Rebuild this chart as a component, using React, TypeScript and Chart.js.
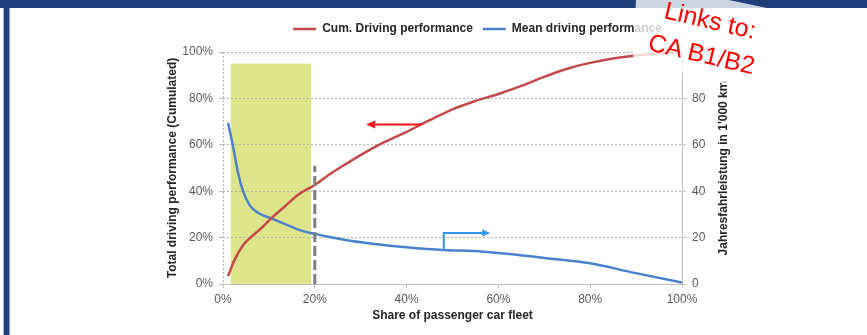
import { useEffect, useRef } from 'react';
import { Chart, registerables } from 'chart.js';

Chart.register(...registerables);

// Cumulated driving performance (%) against share of the passenger car fleet (%)
const cumShare = [1.1, 2.5, 4.4, 5.8, 8.3, 10.5, 13.4, 16.3, 20, 23, 27, 31, 35, 40, 45, 50, 55, 60, 65, 70, 75, 80, 85, 90, 95, 100];
const cumPerformance = [3.4, 10.3, 16.8, 19.7, 24, 28.3, 33.3, 38.4, 42.7, 47, 52, 56.7, 61, 65.6, 70.6, 75.3, 78.9, 81.9, 85.4, 89.3, 92.8, 95.3, 97.2, 98.5, 99.4, 100];

// Mean annual mileage (1'000 km) against share of the passenger car fleet (%)
const meanShare = [1.1, 2.2, 3.3, 4.4, 5.8, 7.6, 10.5, 13.4, 17.1, 20, 22.9, 27.7, 34.9, 42.2, 48.1, 56.7, 64, 70.5, 80, 89.4, 100];
const meanMileage = [69.5, 59.2, 47.7, 39.8, 34, 30.7, 28.3, 25.9, 23, 21.6, 20.4, 18.6, 16.8, 15.4, 14.7, 13.9, 12.6, 11.1, 8.9, 4.9, 0.6];

const seriesLabels = ['Cum. Driving performance', 'Mean driving performance'];
const xTitle = 'Share of passenger car fleet';
const yTitle = 'Total driving performance (Cumulated)';
const y1Title = "Jahresfahrleistung in 1'000 km";

// Highlighted fleet segment (share range, cumulated height) and the 20 % cut-off
const highlightShare = [1.7, 19.2];
const highlightTop = 95;
const cutoffShare = 20;
const cutoffTop = 51;

// Pointer arrows telling which axis each curve belongs to
const cumArrowShare = [43.3, 31.2];
const cumArrowLevel = 68.8;
const meanArrowShare = [48.1, 48.1, 58.2];
const meanArrowLevel = [14.7, 22, 22];

const FONT = '"Liberation Sans", Arial, Helvetica, sans-serif';

function drawArrow(ctx: CanvasRenderingContext2D, pts: number[][], color: string, len: number, half: number) {
  const n = pts.length;
  const [ex, ey] = pts[n - 1];
  const [px, py] = pts[n - 2];
  const ang = Math.atan2(ey - py, ex - px);
  const bx = ex - Math.cos(ang) * len;
  const by = ey - Math.sin(ang) * len;
  ctx.strokeStyle = color;
  ctx.fillStyle = color;
  ctx.lineWidth = 2;
  ctx.lineJoin = 'miter';
  ctx.beginPath();
  ctx.moveTo(pts[0][0], pts[0][1]);
  for (let i = 1; i < n - 1; i++) ctx.lineTo(pts[i][0], pts[i][1]);
  ctx.lineTo(bx, by);
  ctx.stroke();
  ctx.beginPath();
  ctx.moveTo(ex, ey);
  ctx.lineTo(bx - Math.sin(ang) * half, by + Math.cos(ang) * half);
  ctx.lineTo(bx + Math.sin(ang) * half, by - Math.cos(ang) * half);
  ctx.closePath();
  ctx.fill();
}

const fleetMarks = {
  id: 'fleetMarks',
  beforeDraw(chart: any) {
    const { ctx, scales } = chart;
    const { x, y } = scales;
    const l = x.getPixelForValue(highlightShare[0]);
    const r = x.getPixelForValue(highlightShare[1]);
    const t = y.getPixelForValue(highlightTop);
    const b = y.getPixelForValue(0);
    ctx.save();
    ctx.fillStyle = '#dde48a';
    ctx.fillRect(l, t, r - l, b - t);
    ctx.restore();
  },
  afterDatasetsDraw(chart: any) {
    const { ctx, scales, chartArea } = chart;
    const { x, y, y1 } = scales;
    ctx.save();
    // 20 % cut-off
    const cx = x.getPixelForValue(cutoffShare);
    ctx.strokeStyle = '#808080';
    ctx.lineWidth = 3;
    ctx.setLineDash([10, 4]);
    ctx.beginPath();
    ctx.moveTo(cx, y.getPixelForValue(0));
    ctx.lineTo(cx, y.getPixelForValue(cutoffTop));
    ctx.stroke();
    ctx.setLineDash([]);

    drawArrow(
      ctx,
      cumArrowShare.map((s) => [x.getPixelForValue(s), y.getPixelForValue(cumArrowLevel)]),
      '#f01818', 9, 4
    );
    drawArrow(
      ctx,
      meanArrowShare.map((s, i) => [x.getPixelForValue(s), y1.getPixelForValue(meanArrowLevel[i])]),
      '#2e96f0', 8, 3.5
    );

    // right axis title, reading bottom to top
    ctx.fillStyle = '#262626';
    ctx.font = `bold 12px ${FONT}`;
    ctx.textAlign = 'center';
    ctx.textBaseline = 'middle';
    ctx.translate(y1.left + 41.5, (chartArea.top + chartArea.bottom) / 2);
    ctx.rotate(-Math.PI / 2);
    ctx.fillText(y1Title, 0, 0);
    ctx.restore();
  },
};

export default function App() {
  const ref = useRef<HTMLCanvasElement>(null);

  useEffect(() => {
    Chart.defaults.font.family = FONT;
    const gridGray = '#b4b4b4';
    const axisGray = '#bfbfbf';
    const tickFont = { size: 12 };
    const titleFont = { size: 12, weight: 'bold' as const };

    const chart = new Chart(ref.current as HTMLCanvasElement, {
      type: 'line',
      data: {
        datasets: [
          {
            label: seriesLabels[0],
            data: cumShare.map((s, i) => ({ x: s, y: cumPerformance[i] })),
            borderColor: '#c4494a',
            backgroundColor: '#c4494a',
            borderWidth: 2.5,
            pointRadius: 0,
            cubicInterpolationMode: 'monotone',
            yAxisID: 'y',
          },
          {
            label: seriesLabels[1],
            data: meanShare.map((s, i) => ({ x: s, y: meanMileage[i] })),
            borderColor: '#4a82cc',
            backgroundColor: '#4a82cc',
            borderWidth: 2.5,
            pointRadius: 0,
            cubicInterpolationMode: 'monotone',
            yAxisID: 'y1',
          },
        ],
      },
      options: {
        responsive: false,
        animation: false,
        events: [],
        layout: { padding: { left: 161, right: 73, top: 13, bottom: 8 } },
        plugins: {
          tooltip: { enabled: false },
          legend: {
            position: 'top',
            labels: {
              usePointStyle: true,
              pointStyle: 'line',
              pointStyleWidth: 23,
              padding: 10,
              color: '#262626',
              font: { size: 12, weight: 'bold' },
            },
          },
          subtitle: {
            display: true,
            text: '',
            weight: 500,
            padding: { top: 0, bottom: 6 },
            font: { size: 1, lineHeight: 1 },
          } as any,
        },
        scales: {
          x: {
            type: 'linear',
            min: 0,
            max: 100,
            ticks: { stepSize: 20, callback: (v: any) => `${v}%`, color: '#595959', font: tickFont, padding: 4, maxRotation: 0 },
            grid: {
              drawOnChartArea: true,
              color: (c: any) => (c.tick && c.tick.value === 0 ? gridGray : 'rgba(0,0,0,0)'),
              tickColor: axisGray,
              tickLength: 4,
            },
            border: { display: true, color: axisGray, dash: [2, 2] },
            title: { display: true, text: xTitle, color: '#262626', font: titleFont, padding: { top: 4, bottom: 4 } },
            afterFit: (s: any) => { s.height = 43; },
          },
          y: {
            type: 'linear',
            position: 'left',
            min: 0,
            max: 100,
            ticks: { stepSize: 20, callback: (v: any) => `${v}%`, color: '#595959', font: tickFont, padding: 6 },
            grid: { color: gridGray, tickColor: axisGray, tickLength: 4 },
            border: { display: false, dash: [2, 2] },
            title: { display: true, text: yTitle, color: '#262626', font: titleFont, padding: { top: 4, bottom: 4 } },
            afterFit: (s: any) => { s.width = 62; },
          },
          y1: {
            type: 'linear',
            position: 'right',
            min: 0,
            max: 100,
            ticks: { stepSize: 20, color: '#595959', font: tickFont, padding: 6 },
            grid: { drawOnChartArea: false, tickColor: axisGray, tickLength: 4 },
            border: { display: true, color: axisGray },
            afterFit: (s: any) => { s.width = 112; },
          },
        },
      },
      plugins: [fleetMarks],
    } as any);

    return () => chart.destroy();
  }, []);

  const calloutLine = {
    position: 'absolute' as const,
    fontFamily: FONT,
    fontSize: 25,
    lineHeight: '25px',
    color: '#ff0000',
    whiteSpace: 'nowrap' as const,
    transform: 'rotate(13deg)',
    transformOrigin: '0 20.8px',
  };

  return (
    <div style={{ position: 'fixed', left: 0, top: 0, width: 867, height: 335, background: '#ffffff', overflow: 'hidden' }}>
      <canvas ref={ref} width={867} height={335} style={{ position: 'absolute', left: 0, top: 0 }} />
      {/* slide frame */}
      <div style={{ position: 'absolute', left: 0, top: 0, width: 867, height: 8, background: '#203f7b' }} />
      <div style={{ position: 'absolute', left: 3, top: 8, width: 1, height: 327, background: '#aab6cf' }} />
      <div style={{ position: 'absolute', left: 4, top: 8, width: 5, height: 327, background: '#203f7b' }} />
      <div style={{ position: 'absolute', left: 9, top: 8, width: 1, height: 327, background: '#8aa0c6' }} />
      {/* callout box */}
      <div
        style={{
          position: 'absolute',
          left: 0,
          top: 0,
          width: 867,
          height: 335,
          background: 'rgba(255,255,255,0.78)',
          clipPath: 'polygon(636px 0px, 729px 0px, 800px 15px, 785px 100px, 682px 73px, 633px 62px)',
        }}
      />
      <span style={{ ...calloutLine, left: 662.5, top: -2.8 }}>Links to:</span>
      <span style={{ ...calloutLine, left: 646.5, top: 29.2 }}>CA B1/B2</span>
    </div>
  );
}
